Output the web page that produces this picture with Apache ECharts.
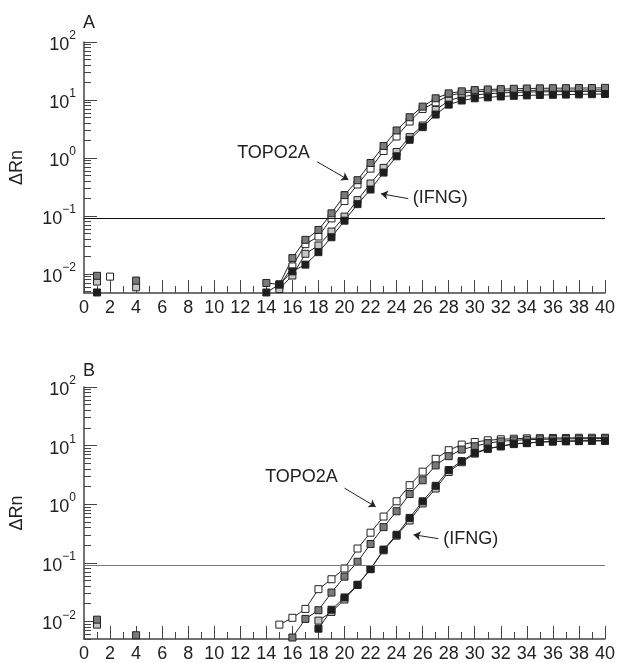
<!DOCTYPE html>
<html>
<head>
<meta charset="utf-8">
<script src="https://cdn.jsdelivr.net/npm/echarts@6/dist/echarts.min.js"></script>
<style>
html, body { margin: 0; padding: 0; background: #fff; }
#chart { width: 618px; height: 663px; }
</style>
</head>
<body>
<div id="chart"></div>
<script>
var cycles = [1, 2, 3, 4, 5, 6, 7, 8, 9, 10, 11, 12, 13, 14, 15, 16, 17, 18, 19, 20,
	21, 22, 23, 24, 25, 26, 27, 28, 29, 30, 31, 32, 33, 34, 35, 36, 37, 38, 39, 40];

// panel A
var aWhite = [null, 0.009, null, null, null, null, null, null, null, null, null, null, null, null,
	0.0062, 0.0135, 0.0327, 0.0443, 0.091, 0.181, 0.349, 0.656, 1.32, 2.35, 4.25, 7.01, 9.12, 11.9,
	13.2, 13.9, 14.2, 14.4, 14.5, 14.6, 14.7, 14.8, 14.8, 14.9, 14.9, 15.0];
var aLight = [0.0074, null, null, 0.0059, null, null, null, null, null, null, null, null, null, null,
	0.0055, 0.0094, 0.0223, 0.031, 0.0539, 0.0975, 0.188, 0.363, 0.675, 1.27, 2.29, 3.63, 6.74, 9.74,
	11.4, 12.2, 12.8, 13.2, 13.5, 13.7, 13.8, 13.9, 14.0, 14.0, 14.1, 14.1];
var aDark = [0.0093, null, null, 0.0077, null, null, null, null, null, null, null, null, null, 0.0070,
	0.0066, 0.0188, 0.0388, 0.0575, 0.111, 0.229, 0.414, 0.82, 1.61, 2.98, 5.04, 7.69, 10.7, 13.0,
	14.1, 14.8, 15.2, 15.4, 15.6, 15.8, 15.9, 16.0, 16.0, 16.1, 16.1, 16.2];
var aBlack = [0.0048, null, null, null, null, null, null, null, null, null, null, null, null, 0.0048,
	0.0066, 0.0111, 0.0145, 0.0238, 0.043, 0.083, 0.16, 0.286, 0.561, 1.07, 2.06, 3.4, 5.61, 8.32,
	9.8, 10.7, 11.1, 11.5, 11.8, 12.0, 12.2, 12.3, 12.4, 12.5, 12.6, 12.7];

// panel B
var bWhite = [null, null, null, null, null, null, null, null, null, null, null, null, null, null,
	0.0088, 0.0115, 0.0163, 0.0354, 0.0523, 0.080, 0.175, 0.326, 0.615, 1.12, 2.11, 3.59, 5.95, 8.34,
	10.4, 11.5, 12.3, 12.8, 13.1, 13.3, 13.4, 13.5, 13.5, 13.6, 13.6, 13.6];
var bLight = [0.0088, null, null, null, null, null, null, null, null, null, null, null, null, null,
	null, null, null, 0.0103, 0.0145, 0.0236, 0.042, 0.078, 0.163, 0.29, 0.526, 1.03, 1.85, 3.54,
	5.2, 7.3, 8.8, 9.7, 10.6, 11.0, 11.5, 11.8, 12.0, 12.1, 12.2, 12.3];
var bDark = [0.0107, null, null, 0.0058, null, null, null, null, null, null, null, null, null, null,
	null, 0.0053, 0.011, 0.0155, 0.031, 0.058, 0.104, 0.209, 0.406, 0.757, 1.49, 2.56, 4.59, 6.6,
	8.55, 9.75, 11.0, 11.8, 12.3, 12.6, 12.8, 12.9, 13.0, 13.1, 13.1, 13.2];
var bBlack = [null, null, null, null, null, null, null, null, null, null, null, null, null, null,
	null, null, null, 0.0075, 0.0158, 0.0256, 0.042, 0.078, 0.168, 0.301, 0.584, 1.12, 2.06, 3.83,
	5.43, 7.52, 8.9, 9.75, 10.8, 11.1, 11.5, 11.7, 11.8, 11.9, 12.0, 12.0];

var threshold = 0.09;
var minorTicks = [0.005, 0.006, 0.007, 0.008, 0.009, 0.02, 0.03, 0.04, 0.05, 0.06, 0.07, 0.08, 0.09,
	0.2, 0.3, 0.4, 0.5, 0.6, 0.7, 0.8, 0.9, 2, 3, 4, 5, 6, 7, 8, 9, 20, 30, 40, 50, 60, 70, 80, 90];

// annotations, in data coords [cycle, value]
var annA = {
	topoText: [14.55, 1.23], topoArrow: [[17.9, 0.86], [20.3, 0.42]],
	ifngText: [27.35, 0.205], ifngArrow: [[24.9, 0.199], [22.8, 0.242]]
};
var annB = {
	topoText: [16.7, 2.88], topoArrow: [[20.0, 1.88], [22.4, 0.9]],
	ifngText: [29.7, 0.258], ifngArrow: [[27.2, 0.258], [25.3, 0.301]]
};

var FONT = 'Liberation Sans';
var INK = '#222';

function pairs(arr) {
	return cycles.map(function (c, i) { return [c, arr[i]]; });
}

function expLabel(v) {
	var l = Math.log10(v);
	var e = Math.round(l);
	if (Math.abs(l - e) > 1e-6) return '';
	return '{b|10}{s|' + (e < 0 ? '\u2212' + (-e) : e) + '}';
}

function makeSeries(idx, arr, fill, extra) {
	var s = {
		type: 'line',
		xAxisIndex: idx,
		yAxisIndex: idx * 2,
		data: pairs(arr),
		symbol: 'rect',
		symbolSize: 7,
		connectNulls: false,
		lineStyle: { color: INK, width: 1 },
		itemStyle: { color: fill, borderColor: INK, borderWidth: 1 },
		emphasis: { disabled: true },
		z: 3
	};
	if (extra) {
		for (var k in extra) s[k] = extra[k];
	}
	return s;
}

function annotations(ann, lineColor) {
	return {
		markLine: {
			silent: true,
			symbol: 'none',
			label: { show: false },
			lineStyle: { color: lineColor, width: 1, type: 'solid' },
			data: [{ yAxis: threshold }]
		},
		markPoint: {
			silent: true,
			symbolSize: 0,
			label: {
				show: true, position: 'inside', color: INK,
				fontFamily: FONT, fontSize: 18
			},
			data: [
				{ coord: ann.topoText, value: 'TOPO2A', label: { formatter: 'TOPO2A' } },
				{ coord: ann.ifngText, value: '(IFNG)', label: { formatter: '(IFNG)' } }
			]
		}
	};
}

function arrowSeries(idx, ann) {
	return {
		type: 'line',
		xAxisIndex: idx,
		yAxisIndex: idx * 2,
		data: [],
		silent: true,
		markLine: {
			silent: true,
			symbol: ['none', 'arrow'],
			symbolSize: 7,
			label: { show: false },
			lineStyle: { color: INK, width: 1, type: 'solid' },
			data: [
				[{ coord: ann.topoArrow[0] }, { coord: ann.topoArrow[1] }],
				[{ coord: ann.ifngArrow[0] }, { coord: ann.ifngArrow[1] }]
			]
		}
	};
}

function xAxis(grid) {
	return {
		type: 'value',
		gridIndex: grid,
		min: 0,
		max: 40,
		interval: 2,
		axisLine: { lineStyle: { color: '#444', width: 1.5 } },
		axisTick: { inside: true, length: 13, lineStyle: { color: '#444', width: 1 } },
		minorTick: { show: true, splitNumber: 2, length: 7, lineStyle: { color: '#444', width: 1 } },
		splitLine: { show: false },
		axisLabel: { color: INK, fontFamily: FONT, fontSize: 18, margin: 6 }
	};
}

function yAxes(grid, min) {
	return [{
		type: 'log',
		gridIndex: grid,
		min: min,
		max: 100,
		name: '\u0394Rn',
		nameLocation: 'middle',
		nameRotate: 90,
		nameGap: 58,
		nameTextStyle: { color: INK, fontFamily: FONT, fontSize: 18 },
		axisLine: { show: true, lineStyle: { color: '#444', width: 1.5 } },
		axisTick: { inside: true, length: 13, lineStyle: { color: '#444', width: 1 } },
		splitLine: { show: false },
		axisLabel: {
			formatter: expLabel,
			margin: 8,
			showMinLabel: false,
			rich: {
				b: { fontFamily: FONT, fontSize: 18, color: INK, verticalAlign: 'bottom', lineHeight: 24 },
				s: { fontFamily: FONT, fontSize: 12, color: INK, verticalAlign: 'top', lineHeight: 24 }
			}
		}
	}, {
		type: 'log',
		gridIndex: grid,
		min: min,
		max: 100,
		position: 'left',
		axisLine: { show: false },
		axisTick: {
			show: true, inside: true, length: 7, customValues: minorTicks,
			lineStyle: { color: '#444', width: 1 }
		},
		axisLabel: { show: false },
		splitLine: { show: false }
	}];
}

var chart = echarts.init(document.getElementById('chart'));

var option = {
	animation: false,
	backgroundColor: '#fff',
	title: [
		{ text: 'A', left: 78, top: 9, textStyle: { fontFamily: FONT, fontSize: 18, fontWeight: 'normal', color: INK } },
		{ text: 'B', left: 78, top: 357, textStyle: { fontFamily: FONT, fontSize: 18, fontWeight: 'normal', color: INK } }
	],
	grid: [
		{ left: 81, top: 42, width: 525, height: 251 },
		{ left: 81, top: 387, width: 525, height: 254 }
	],
	xAxis: [xAxis(0), xAxis(1)],
	yAxis: yAxes(0, 0.0047).concat(yAxes(1, 0.005)),
	series: [
		makeSeries(0, aWhite, '#ffffff'),
		makeSeries(0, aLight, '#c4c4c4'),
		makeSeries(0, aDark, '#7a7a7a'),
		makeSeries(0, aBlack, '#1e1e1e', annotations(annA, '#111')),
		arrowSeries(0, annA),
		makeSeries(1, bWhite, '#ffffff'),
		makeSeries(1, bLight, '#c4c4c4'),
		makeSeries(1, bDark, '#7a7a7a'),
		makeSeries(1, bBlack, '#1e1e1e', annotations(annB, '#777')),
		arrowSeries(1, annB)
	]
};

chart.setOption(option);
</script>
</body>
</html>
